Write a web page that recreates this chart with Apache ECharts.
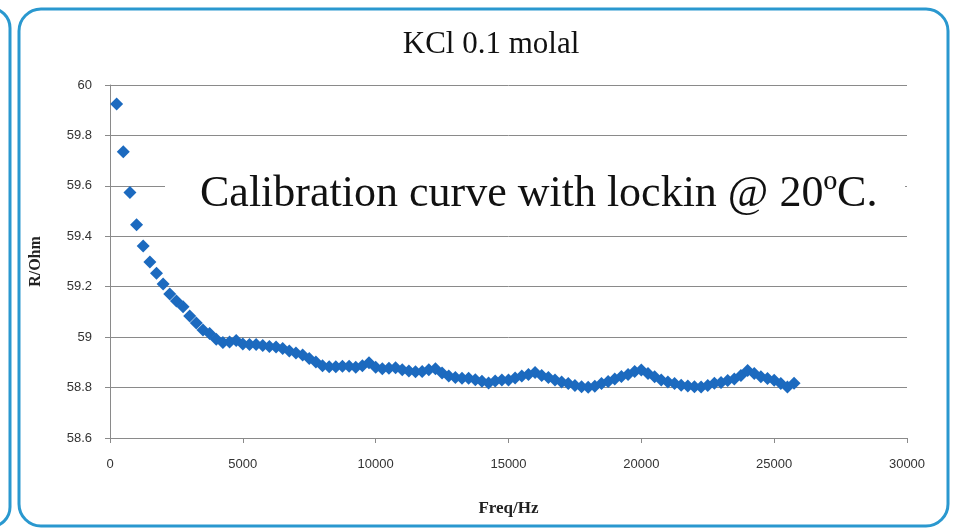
<!DOCTYPE html>
<html>
<head>
<meta charset="utf-8">
<script src="https://cdn.jsdelivr.net/npm/echarts@6/dist/echarts.min.js"></script>
<style>
  html, body { margin: 0; padding: 0; background: #ffffff; }
  #chart { width: 954px; height: 531px; }
</style>
</head>
<body>
<div id="chart"></div>
<script>
// KCl 0.1 molal calibration: resistance measured with the lock-in amplifier
const titleText = 'KCl 0.1 molal';
const noteText = 'Calibration curve with lockin @ 20\u00baC.';
const xName = 'Freq/Hz';
const yName = 'R/Ohm';

// Frequency steps (Hz)
const freqHz = [
  250, 500, 750, 1000, 1250, 1500, 1750, 2000, 2250, 2500,
  2750, 3000, 3250, 3500, 3750, 4000, 4250, 4500, 4750, 5000,
  5250, 5500, 5750, 6000, 6250, 6500, 6750, 7000, 7250, 7500,
  7750, 8000, 8250, 8500, 8750, 9000, 9250, 9500, 9750, 10000,
  10250, 10500, 10750, 11000, 11250, 11500, 11750, 12000, 12250, 12500,
  12750, 13000, 13250, 13500, 13750, 14000, 14250, 14500, 14750, 15000,
  15250, 15500, 15750, 16000, 16250, 16500, 16750, 17000, 17250, 17500,
  17750, 18000, 18250, 18500, 18750, 19000, 19250, 19500, 19750, 20000,
  20250, 20500, 20750, 21000, 21250, 21500, 21750, 22000, 22250, 22500,
  22750, 23000, 23250, 23500, 23750, 24000, 24250, 24500, 24750, 25000,
  25250, 25500, 25750
];

// Measured resistance (Ohm)
const resistanceOhm = [
  59.925, 59.735, 59.574, 59.446, 59.361, 59.298, 59.253, 59.211, 59.171, 59.143,
  59.121, 59.084, 59.056, 59.028, 59.014, 58.992, 58.979, 58.981, 58.987, 58.973,
  58.971, 58.971, 58.967, 58.963, 58.961, 58.955, 58.945, 58.937, 58.929, 58.915,
  58.901, 58.887, 58.883, 58.883, 58.885, 58.885, 58.881, 58.887, 58.898, 58.881,
  58.875, 58.877, 58.879, 58.871, 58.866, 58.863, 58.864, 58.871, 58.875, 58.858,
  58.846, 58.840, 58.837, 58.837, 58.831, 58.825, 58.818, 58.826, 58.830, 58.830,
  58.838, 58.846, 58.852, 58.860, 58.848, 58.840, 58.830, 58.822, 58.816, 58.808,
  58.803, 58.801, 58.805, 58.816, 58.824, 58.834, 58.844, 58.852, 58.864, 58.870,
  58.856, 58.843, 58.830, 58.822, 58.816, 58.809, 58.806, 58.803, 58.802, 58.808,
  58.817, 58.820, 58.828, 58.834, 58.848, 58.868, 58.856, 58.843, 58.836, 58.829,
  58.816, 58.802, 58.817
];

// Axis ranges
const xMin = 0, xMax = 30000, xStep = 5000;
const yMin = 58.6, yMax = 60, yStep = 0.2;

const points = freqHz.map((f, i) => [f, resistanceOhm[i]]);

const chart = echarts.init(document.getElementById('chart'), null, { renderer: 'canvas' });

const axisGrey = '#8a8a8a';
const labelFont = '"Liberation Sans", Arial, sans-serif';
const serifFont = '"Liberation Serif", "Times New Roman", serif';

chart.setOption({
  backgroundColor: '#ffffff',
  animation: false,
  title: {
    text: titleText,
    left: 486,
    top: 24,
    textAlign: 'center',
    textStyle: {
      fontFamily: serifFont,
      fontWeight: 'normal',
      fontSize: 31,
      color: '#111111'
    }
  },
  grid: { left: 110, right: 47, top: 85, bottom: 93, containLabel: false },
  xAxis: {
    type: 'value',
    min: xMin, max: xMax, interval: xStep,
    name: xName,
    nameLocation: 'middle',
    nameGap: 62,
    nameTextStyle: { fontFamily: serifFont, fontWeight: 'bold', fontSize: 17, color: '#222' },
    axisLine: { show: true, onZero: false, lineStyle: { color: axisGrey, width: 1 } },
    axisTick: { show: true, inside: false, length: 5, lineStyle: { color: axisGrey } },
    axisLabel: {
      margin: 20, fontFamily: labelFont, fontSize: 13, color: '#333',
      formatter: v => String(Math.round(v))
    },
    splitLine: { show: false }
  },
  yAxis: {
    type: 'value',
    min: yMin, max: yMax, interval: yStep,
    name: yName,
    nameLocation: 'middle',
    nameGap: 66,
    nameRotate: 90,
    nameTextStyle: { fontFamily: serifFont, fontWeight: 'bold', fontSize: 16, color: '#222' },
    axisLine: { show: true, lineStyle: { color: axisGrey, width: 1 } },
    axisTick: { show: true, inside: false, length: 5, lineStyle: { color: axisGrey } },
    axisLabel: {
      margin: 18, fontFamily: labelFont, fontSize: 13, color: '#333',
      formatter: v => String(+v.toFixed(1))
    },
    splitLine: { show: true, lineStyle: { color: axisGrey, width: 1 } }
  },
  series: [{
    type: 'scatter',
    data: points,
    symbol: 'diamond',
    symbolSize: [13, 13],
    itemStyle: { color: '#1c6abf', opacity: 1 },
    z: 3
  }],
  graphic: [
    // neighbouring panel edge on the far left
    {
      type: 'rect', z: 100, silent: true,
      shape: { x: -220, y: 8, width: 230, height: 519, r: 20 },
      style: { fill: 'none', stroke: '#2a98cf', lineWidth: 3 }
    },
    // outer rounded frame
    {
      type: 'rect', z: 100, silent: true,
      shape: { x: 19, y: 9, width: 929, height: 517, r: 22 },
      style: { fill: 'none', stroke: '#2a98cf', lineWidth: 3 }
    },
    // annotation with white background
    {
      type: 'rect', z: 50, silent: true,
      shape: { x: 165, y: 162, width: 740, height: 62 },
      style: { fill: '#ffffff' }
    },
    {
      type: 'text', z: 51, silent: true,
      style: {
        text: noteText,
        x: 200, y: 194,
        verticalAlign: 'middle',
        font: '44px "Liberation Serif", "Times New Roman", serif',
        fill: '#111111'
      }
    }
  ]
});
</script>
</body>
</html>
